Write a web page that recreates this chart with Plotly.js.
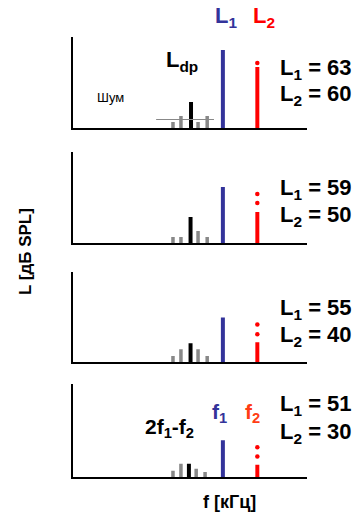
<!DOCTYPE html>
<html><head><meta charset="utf-8">
<script src="https://cdn.plot.ly/plotly-3.0.1.min.js"></script>
<style>html,body{margin:0;padding:0;background:#fff}#chart{width:358px;height:515px}</style>
</head><body><div id="chart"></div>
<script>
// ---- data (levels, arbitrary level units; frequency in arbitrary units) ----
const L1 = [63, 59, 55, 51];
const L2 = [60, 50, 40, 30];
const f1 = 6.41;
const f2 = 7.88;
const blueH = [78, 56, 45, 36];
const redH = [61, 31, 20, 12];
const redDots = [[65], [49, 40], [38, 28], [29, 20]];
const dpX = [5.05, 5.03, 5.03, 4.96];
const dpH = [26, 26, 19, 13];
const noiseX = [[4.28, 4.62, 5.35, 5.74], [4.28, 4.62, 5.35, 5.74], [4.28, 4.62, 5.35, 5.74], [4.28, 4.62, 5.27, 5.65]];
const noiseH = [[6, 12, 6, 12], [6, 6, 12, 6], [6, 13, 13, 6], [6, 13, 8, 5]];
const noiseFloorX = [3.56, 6.03];
const noiseFloorY = [8.5, 8.5];

// ---- layout geometry ----
const W = 358, H = 515;
const xDom = [72.7 / W, 307 / W];
const panelPx = [[37, 128], [152, 243], [272, 362], [384, 477]];
const BLUE = '#33339a', RED = '#ff0000', GREY = '#888888';
const FONT = 'Liberation Sans, Arial, sans-serif';

const traces = [];
const layout = {
  width: W, height: H, margin: {l: 0, r: 0, t: 0, b: 0},
  paper_bgcolor: '#fff', plot_bgcolor: 'rgba(0,0,0,0)',
  showlegend: false, barmode: 'overlay', annotations: []
};

for (let i = 0; i < 4; i++) {
  const k = i === 0 ? '' : String(i + 1);
  const xa = 'x' + k, ya = 'y' + k;
  const [top, bot] = panelPx[i];
  layout['xaxis' + k] = {domain: xDom, range: [0, 10], anchor: ya, showline: true, linecolor: '#000', linewidth: 1.5,
    showgrid: false, zeroline: false, showticklabels: false, ticks: '', fixedrange: true};
  layout['yaxis' + k] = {domain: [1 - bot / H, 1 - top / H], range: [0, 91], anchor: xa, showline: true, linecolor: '#000', linewidth: 1.5,
    showgrid: false, zeroline: false, showticklabels: false, ticks: '', fixedrange: true};

  traces.push({type: 'bar', x: noiseX[i], y: noiseH[i], width: 0.15, marker: {color: GREY}, xaxis: xa, yaxis: ya, hoverinfo: 'skip'});
  traces.push({type: 'bar', x: [dpX[i]], y: [dpH[i]], width: 0.17, marker: {color: '#000'}, xaxis: xa, yaxis: ya, hoverinfo: 'skip'});
  traces.push({type: 'bar', x: [f1], y: [blueH[i]], width: 0.17, marker: {color: BLUE}, xaxis: xa, yaxis: ya, hoverinfo: 'skip'});
  traces.push({type: 'bar', x: [f2], y: [redH[i]], width: 0.17, marker: {color: RED}, xaxis: xa, yaxis: ya, hoverinfo: 'skip'});
  traces.push({type: 'scatter', mode: 'markers', x: redDots[i].map(() => f2), y: redDots[i], marker: {color: RED, size: 4.5},
    xaxis: xa, yaxis: ya, hoverinfo: 'skip', cliponaxis: false});
  if (i === 0) {
    traces.push({type: 'scatter', mode: 'lines', x: noiseFloorX, y: noiseFloorY, line: {color: GREY, width: 1}, xaxis: xa, yaxis: ya, hoverinfo: 'skip'});
  }
}

function ann(text, px, py, size, color, opts) {
  layout.annotations.push(Object.assign({text: text, xref: 'paper', yref: 'paper', x: px / W, y: 1 - py / H,
    xanchor: 'left', yanchor: 'middle', showarrow: false, font: {family: FONT, size: size, color: color}}, opts || {}));
}
const B = s => '<b>' + s + '</b>';

// right-hand level labels
const labY = [[69, 95], [189, 215.5], [308.5, 335.5], [404.5, 432.5]];
for (let i = 0; i < 4; i++) {
  ann(B('L<sub>1</sub> = ' + L1[i]), 278, labY[i][0], 22, '#000');
  ann(B('L<sub>2</sub> = ' + L2[i]), 278, labY[i][1], 22, '#000');
}
ann(B('L<sub>1</sub>'), 213, 17, 22, BLUE);
ann(B('L<sub>2</sub>'), 251, 17, 22, RED);
ann(B('L<sub>dp</sub>'), 164, 61, 22, '#000');
ann('Шум', 95, 98, 13, '#000');
ann(B('2f<sub>1</sub>-f<sub>2</sub>'), 143, 427.5, 21, '#000');
ann(B('f<sub>1</sub>'), 210, 412.5, 21, BLUE);
ann(B('f<sub>2</sub>'), 243, 412.5, 21, '#ff3c14');
ann(B('f [кГц]'), 229.5, 502, 18, '#000', {xanchor: 'center'});
ann(B('L [дБ SPL]'), 26, 252, 17, '#000', {xanchor: 'center', textangle: -90});

Plotly.newPlot('chart', traces, layout, {staticPlot: true, displayModeBar: false});
</script></body></html>
